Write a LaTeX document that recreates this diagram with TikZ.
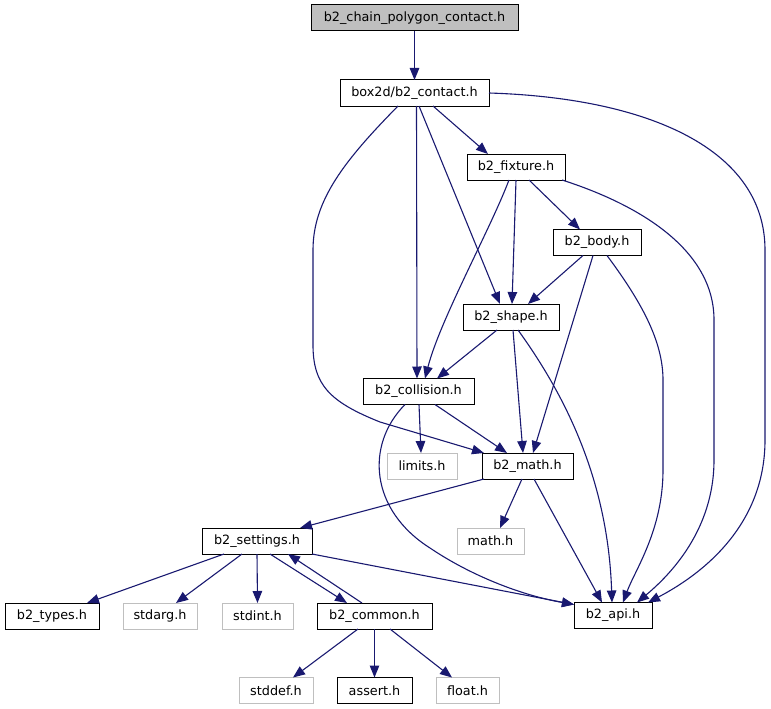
\documentclass[tikz,border=0pt]{standalone}
\usepackage{fontspec}
\setmainfont{DejaVu Sans}
\usepackage{xcolor}
\usetikzlibrary{positioning,arrows.meta,calc}
\definecolor{edgeblue}{HTML}{191970}
\definecolor{sysgray}{HTML}{BFBFBF}

\begin{document}
\begin{tikzpicture}[x=1pt, y=-1pt,
  every node/.style={font=\fontsize{12.8}{15}\selectfont, inner sep=0pt, outer sep=0pt, minimum height=26pt},
  hdr/.style={rectangle, draw=black, line width=1pt, fill=white},
  sys/.style={rectangle, draw=sysgray, line width=1pt, fill=white},
  dep/.style={draw=edgeblue, line width=1.1pt, -{Triangle[length=12pt,width=9.5pt]}, edgeblue}]
\useasboundingbox (0,0) rectangle (771,709);

\node[hdr, fill=sysgray, minimum width=207pt] (chain) at (414.5,18) {b2\_chain\_polygon\_contact.h};
\node[hdr, minimum width=149pt] (contact) at (414.5,93) {box2d/b2\_contact.h};
\node[hdr, minimum width=98pt] (fixture) at (516,167) {b2\_fixture.h};
\node[hdr, minimum width=88pt] (body) at (597,242.5) {b2\_body.h};
\node[hdr, minimum width=96pt] (shape) at (511,317) {b2\_shape.h};
\node[hdr, minimum width=111pt] (collision) at (418.5,391.5) {b2\_collision.h};
\node[sys, minimum width=70pt] (limits) at (422,466) {limits.h};
\node[hdr, minimum width=91pt] (bmath) at (527.5,466) {b2\_math.h};
\node[sys, minimum width=67pt] (cmath) at (490.5,541) {math.h};
\node[hdr, minimum width=110pt] (settings) at (257,541) {b2\_settings.h};
\node[hdr, minimum width=94pt] (types) at (52,616) {b2\_types.h};
\node[sys, minimum width=74pt] (stdarg) at (160,616) {stdarg.h};
\node[sys, minimum width=71pt] (stdint) at (257.5,616) {stdint.h};
\node[hdr, minimum width=115pt] (common) at (374.5,616) {b2\_common.h};
\node[hdr, minimum width=78pt] (api) at (613,615.5) {b2\_api.h};
\node[sys, minimum width=74pt] (stddef) at (276,690.5) {stddef.h};
\node[hdr, minimum width=75pt] (assert) at (374.5,690.5) {assert.h};
\node[sys, minimum width=63pt] (float) at (467.5,690.5) {float.h};

% top levels
\draw[dep] (chain) -- (contact);
\draw[dep] ([xshift=18.5]contact.south) -- ([xshift=-28]fixture.north);
\draw[dep] ([xshift=4.5]contact.south) -- ([xshift=-11]shape.north);
\draw[dep] ([xshift=2]contact.south) -- ([xshift=-1.5]collision.north);
\draw[dep] ([xshift=-16.5]contact.south) .. controls (345,160) and (313,200) .. (313,250)
  -- (313,345) .. controls (313,385) and (330,402) .. (380,422) -- ([xshift=2]bmath.north west);
\draw[dep] (contact.east) .. controls (650,98) and (765,150) .. (765,250)
  -- (765,440) .. controls (765,520) and (710,570) .. ([xshift=35]api.north);

% fixture
\draw[dep] ([xshift=13]fixture.south) -- ([xshift=-17]body.north);
\draw[dep] (fixture.south) -- ([xshift=1]shape.north);
\draw[dep] ([xshift=-7]fixture.south) .. controls (490,230) and (440,320) .. ([xshift=6.5]collision.north);
\draw[dep] ([xshift=-3]fixture.south east) .. controls (640,205) and (714,250) .. (714,320)
  -- (714,460) .. controls (714,530) and (670,575) .. ([xshift=24]api.north);

% body
\draw[dep] ([xshift=-14]body.south) -- ([xshift=17]shape.north);
\draw[dep] ([xshift=-4]body.south) -- ([xshift=5.5]bmath.north);
\draw[dep] ([xshift=10]body.south) .. controls (640,300) and (663,340) .. (663,380)
  -- (663,470) .. controls (663,530) and (635,570) .. ([xshift=10]api.north);

% shape
\draw[dep] ([xshift=-14]shape.south) -- ([xshift=18.5]collision.north);
\draw[dep] ([xshift=2]shape.south) -- ([xshift=-4.5]bmath.north);
\draw[dep] ([xshift=7]shape.south) .. controls (565,395) and (608,480) .. ([xshift=-1]api.north);

% collision
\draw[dep] ([xshift=0.5]collision.south) -- ([xshift=-1]limits.north);
\draw[dep] ([xshift=16.5]collision.south) -- ([xshift=-20.5]bmath.north);
\draw[dep] ([xshift=-13.5]collision.south) .. controls (365,445) and (370,510) .. (430,548)
  .. controls (470,575) and (520,595) .. ([yshift=-2]api.north west);

% math
\draw[dep] ([xshift=2]bmath.south west) -- ([xshift=43]settings.north);
\draw[dep] ([xshift=-5.5]bmath.south) -- ([xshift=9.5]cmath.north);
\draw[dep] ([xshift=6.5]bmath.south) -- ([xshift=-11]api.north);

% settings
\draw[dep] ([xshift=-33]settings.south) -- ([xshift=35]types.north);
\draw[dep] ([xshift=-15]settings.south) -- ([xshift=16]stdarg.north);
\draw[dep] (settings.south) -- (stdint.north);
\draw[dep] ([xshift=13]settings.south) -- ([xshift=-27.5]common.north);
\draw[dep] ([xshift=-12.5]common.north) -- ([xshift=31]settings.south);
\draw[dep] (settings.south east) -- ([yshift=-2]api.north west);

% common
\draw[dep] ([xshift=-16.5]common.south) -- ([xshift=17]stddef.north);
\draw[dep] (common.south) -- (assert.north);
\draw[dep] ([xshift=15.5]common.south) -- ([xshift=-15.5]float.north);
\end{tikzpicture}
\end{document}
